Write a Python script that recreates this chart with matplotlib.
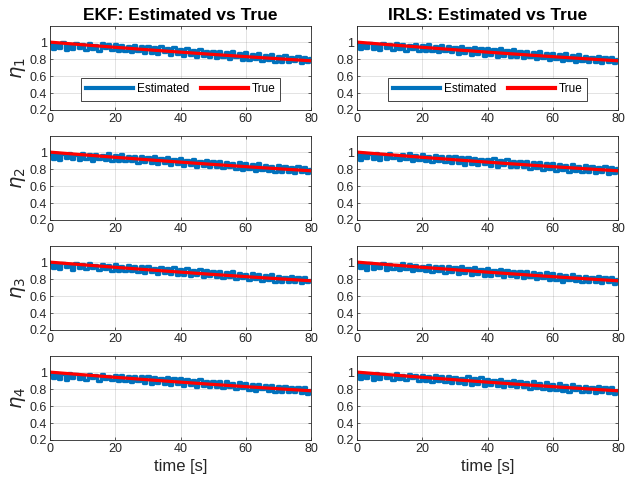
import numpy as np
import matplotlib
matplotlib.use('Agg')
import matplotlib.pyplot as plt

plt.rcParams['font.family'] = ['Liberation Sans', 'DejaVu Sans']

t_est = np.arange(0, 81, 1)
t_true = [0, 10, 20, 30, 40, 50, 60, 70, 80]
eta_true = [1.000, 0.969, 0.939, 0.910, 0.882, 0.855, 0.829, 0.804, 0.780]

ekf_eta1 = [0.99, 0.92, 0.98, 0.93, 1.00, 0.91, 0.98, 0.92, 0.99, 0.93,
            0.98, 0.91, 0.99, 0.92, 0.97, 0.90, 0.99, 0.93, 0.98, 0.91,
            0.98, 0.89, 0.97, 0.90, 0.96, 0.88, 0.97, 0.89, 0.95, 0.87,
            0.95, 0.87, 0.94, 0.86, 0.95, 0.88, 0.93, 0.85, 0.94, 0.86,
            0.92, 0.84, 0.93, 0.85, 0.91, 0.83, 0.92, 0.84, 0.90, 0.82,
            0.90, 0.81, 0.89, 0.83, 0.88, 0.80, 0.89, 0.82, 0.87, 0.79,
            0.88, 0.79, 0.86, 0.80, 0.87, 0.78, 0.85, 0.79, 0.86, 0.77,
            0.84, 0.77, 0.85, 0.76, 0.83, 0.78, 0.84, 0.75, 0.82, 0.76,
            0.81]
ekf_eta2 = [0.98, 0.92, 0.99, 0.91, 0.98, 0.93, 0.99, 0.92, 0.97, 0.91,
            0.99, 0.92, 0.98, 0.90, 0.98, 0.92, 0.97, 0.91, 0.99, 0.90,
            0.97, 0.90, 0.98, 0.89, 0.96, 0.89, 0.96, 0.87, 0.95, 0.88,
            0.94, 0.87, 0.95, 0.86, 0.93, 0.87, 0.94, 0.85, 0.92, 0.86,
            0.93, 0.84, 0.91, 0.85, 0.92, 0.83, 0.90, 0.84, 0.91, 0.82,
            0.89, 0.82, 0.90, 0.81, 0.88, 0.82, 0.87, 0.80, 0.88, 0.79,
            0.87, 0.80, 0.86, 0.78, 0.87, 0.79, 0.85, 0.78, 0.84, 0.77,
            0.85, 0.76, 0.84, 0.77, 0.83, 0.75, 0.84, 0.76, 0.82, 0.75,
            0.80]
ekf_eta3 = [0.99, 0.93, 0.98, 0.92, 0.99, 0.94, 0.98, 0.91, 0.99, 0.93,
            0.98, 0.92, 0.99, 0.93, 0.97, 0.91, 0.98, 0.92, 0.97, 0.90,
            0.98, 0.90, 0.96, 0.89, 0.97, 0.90, 0.95, 0.88, 0.96, 0.87,
            0.95, 0.88, 0.93, 0.86, 0.94, 0.87, 0.93, 0.86, 0.94, 0.85,
            0.92, 0.85, 0.93, 0.84, 0.91, 0.85, 0.92, 0.83, 0.91, 0.84,
            0.90, 0.82, 0.89, 0.81, 0.88, 0.82, 0.89, 0.80, 0.87, 0.81,
            0.86, 0.79, 0.87, 0.80, 0.86, 0.78, 0.85, 0.79, 0.86, 0.77,
            0.84, 0.77, 0.83, 0.76, 0.84, 0.77, 0.82, 0.75, 0.83, 0.76,
            0.79]
ekf_eta4 = [0.98, 0.93, 0.99, 0.92, 0.98, 0.91, 0.99, 0.93, 0.98, 0.92,
            0.97, 0.91, 0.98, 0.93, 0.97, 0.90, 0.98, 0.92, 0.96, 0.91,
            0.97, 0.89, 0.97, 0.90, 0.96, 0.88, 0.96, 0.89, 0.95, 0.87,
            0.95, 0.86, 0.94, 0.87, 0.93, 0.86, 0.94, 0.85, 0.93, 0.86,
            0.93, 0.84, 0.92, 0.85, 0.91, 0.83, 0.92, 0.84, 0.90, 0.83,
            0.90, 0.82, 0.89, 0.81, 0.89, 0.82, 0.87, 0.80, 0.88, 0.81,
            0.87, 0.79, 0.86, 0.78, 0.86, 0.80, 0.85, 0.78, 0.85, 0.77,
            0.84, 0.76, 0.84, 0.77, 0.82, 0.76, 0.83, 0.75, 0.82, 0.74,
            0.79]

irls_eta1 = [0.99, 0.92, 0.98, 0.93, 0.99, 0.92, 0.98, 0.91, 0.99, 0.93,
             0.98, 0.91, 0.99, 0.92, 0.98, 0.90, 0.97, 0.92, 0.98, 0.90,
             0.97, 0.89, 0.98, 0.90, 0.96, 0.88, 0.97, 0.89, 0.95, 0.88,
             0.94, 0.86, 0.95, 0.87, 0.93, 0.85, 0.94, 0.86, 0.93, 0.84,
             0.93, 0.85, 0.92, 0.83, 0.93, 0.84, 0.91, 0.83, 0.92, 0.82,
             0.90, 0.81, 0.89, 0.82, 0.88, 0.80, 0.89, 0.81, 0.87, 0.79,
             0.87, 0.80, 0.86, 0.78, 0.87, 0.79, 0.85, 0.77, 0.86, 0.78,
             0.84, 0.76, 0.83, 0.77, 0.84, 0.75, 0.82, 0.76, 0.83, 0.75,
             0.80]
irls_eta2 = [0.98, 0.91, 0.99, 0.93, 0.98, 0.92, 0.99, 0.91, 0.98, 0.92,
             0.99, 0.93, 0.97, 0.91, 0.98, 0.92, 0.99, 0.90, 0.97, 0.91,
             0.98, 0.90, 0.96, 0.88, 0.97, 0.89, 0.96, 0.88, 0.95, 0.87,
             0.95, 0.87, 0.94, 0.85, 0.94, 0.86, 0.93, 0.85, 0.92, 0.86,
             0.92, 0.84, 0.93, 0.83, 0.91, 0.85, 0.92, 0.82, 0.90, 0.83,
             0.89, 0.82, 0.90, 0.80, 0.88, 0.81, 0.88, 0.79, 0.87, 0.80,
             0.87, 0.78, 0.86, 0.79, 0.85, 0.77, 0.86, 0.78, 0.84, 0.76,
             0.85, 0.77, 0.84, 0.75, 0.83, 0.76, 0.84, 0.74, 0.82, 0.75,
             0.81]
irls_eta3 = [0.99, 0.93, 0.98, 0.91, 0.99, 0.92, 0.98, 0.93, 0.99, 0.91,
             0.98, 0.92, 0.97, 0.91, 0.99, 0.92, 0.98, 0.90, 0.97, 0.91,
             0.96, 0.89, 0.97, 0.88, 0.96, 0.90, 0.95, 0.87, 0.96, 0.88,
             0.94, 0.86, 0.95, 0.87, 0.93, 0.85, 0.94, 0.86, 0.92, 0.84,
             0.93, 0.84, 0.91, 0.85, 0.92, 0.83, 0.91, 0.84, 0.90, 0.82,
             0.89, 0.81, 0.90, 0.82, 0.88, 0.80, 0.87, 0.81, 0.88, 0.79,
             0.87, 0.79, 0.86, 0.77, 0.85, 0.79, 0.86, 0.78, 0.84, 0.77,
             0.84, 0.76, 0.83, 0.77, 0.84, 0.75, 0.82, 0.76, 0.83, 0.74,
             0.80]
irls_eta4 = [0.98, 0.92, 0.99, 0.93, 0.98, 0.91, 0.99, 0.92, 0.98, 0.93,
             0.97, 0.91, 0.99, 0.92, 0.97, 0.91, 0.98, 0.93, 0.97, 0.90,
             0.97, 0.90, 0.96, 0.88, 0.97, 0.89, 0.95, 0.88, 0.96, 0.87,
             0.94, 0.87, 0.93, 0.86, 0.95, 0.85, 0.93, 0.86, 0.94, 0.84,
             0.92, 0.85, 0.91, 0.84, 0.92, 0.83, 0.90, 0.84, 0.91, 0.82,
             0.89, 0.82, 0.88, 0.80, 0.89, 0.81, 0.87, 0.80, 0.88, 0.79,
             0.86, 0.79, 0.87, 0.78, 0.85, 0.77, 0.86, 0.79, 0.84, 0.76,
             0.84, 0.76, 0.83, 0.75, 0.84, 0.77, 0.82, 0.75, 0.83, 0.74,
             0.79]

ekf = [ekf_eta1, ekf_eta2, ekf_eta3, ekf_eta4]
irls = [irls_eta1, irls_eta2, irls_eta3, irls_eta4]
titles = ['EKF: Estimated vs True', 'IRLS: Estimated vs True']

blue = '#0072BD'
dark = '#262626'

fig = plt.figure(figsize=(6.26, 4.87), dpi=100)

lefts = [50 / 626, 357 / 626]
w = 261 / 626
h = 84 / 487
bottoms = [1 - 110 / 487, 1 - 220 / 487, 1 - 330 / 487, 1 - 440 / 487]

for col, series in enumerate([ekf, irls]):
    for row in range(4):
        ax = fig.add_axes([lefts[col], bottoms[row], w, h])
        ax.plot(t_est, series[row], '-', color=blue, lw=2.4, label='Estimated',
                drawstyle='steps-mid')
        ax.plot(t_true, eta_true, '-', color='r', lw=2.3, label='True')
        ax.set_xlim(0, 80)
        ax.set_ylim(0.2, 1.19)
        ax.set_xticks([0, 20, 40, 60, 80])
        ax.set_yticks([0.2, 0.4, 0.6, 0.8, 1.0])
        ax.set_yticklabels(['0.2', '0.4', '0.6', '0.8', '1'])
        ax.grid(True, color=dark, alpha=0.15, lw=0.6)
        ax.tick_params(direction='in', length=2.5, width=0.5, labelsize=9,
                       colors=dark, top=True, right=True, pad=2)
        for sp in ax.spines.values():
            sp.set_color(dark)
            sp.set_linewidth(0.6)
        if col == 0:
            ax.set_ylabel(r'$\eta_%d$' % (row + 1), fontsize=14, color=dark, labelpad=1)
        if row == 0:
            ax.set_title(titles[col], fontsize=12.5, fontweight='bold', color='k', pad=4)
            leg = ax.legend(loc='lower center', bbox_to_anchor=(0.5, 0.04), ncol=2,
                            fontsize=8.5, handlelength=4.0, columnspacing=1.0,
                            fancybox=False, framealpha=1, borderpad=0.45,
                            handletextpad=0.3)
            leg.get_frame().set_edgecolor(dark)
            leg.get_frame().set_linewidth(0.6)
            for ln in leg.get_lines():
                ln.set_linewidth(3)
        if row == 3:
            ax.set_xlabel('time [s]', fontsize=12, color=dark, labelpad=3)

fig.savefig('out.png', dpi=100)
